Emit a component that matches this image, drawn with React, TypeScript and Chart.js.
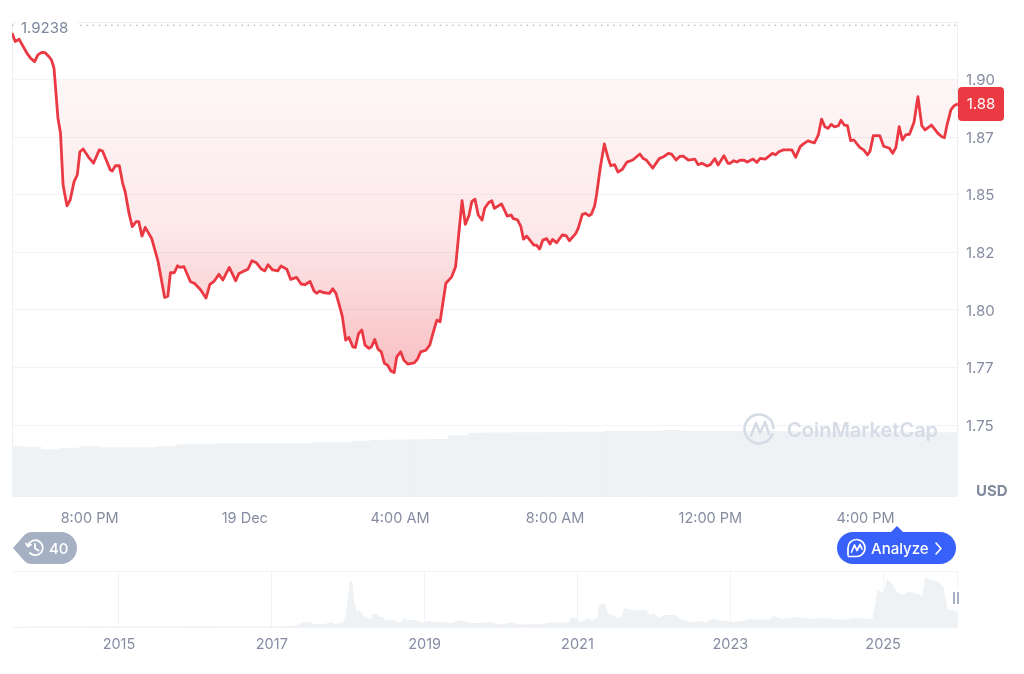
import React, { useEffect, useRef } from "react";
import { Chart, registerables } from "chart.js";

Chart.register(...registerables);

// Minutes since 18 Dec 6:00 PM
const priceMinutes = [0,5,11,15,23,29,35,40,46,51,58,61,65,68,71,75,79,85,90,96,101,105,110,118,126,135,140,152,155,160,166,171,175,181,186,192,196,201,206,216,226,236,241,245,251,256,260,266,276,282,291,300,306,312,320,326,336,346,351,359,365,371,378,386,391,396,403,411,416,425,431,440,447,453,461,467,471,476,481,491,496,501,507,511,516,521,527,531,536,541,546,552,556,561,566,571,576,581,586,591,595,601,606,612,622,627,632,640,646,651,657,662,671,680,686,696,701,707,711,716,721,727,731,737,742,746,757,766,772,775,782,787,791,796,807,811,816,821,827,832,836,842,851,857,862,872,876,882,887,892,896,901,904,910,916,922,926,932,937,944,951,960,971,976,981,991,1001,1007,1015,1020,1027,1033,1038,1046,1056,1061,1067,1075,1080,1087,1092,1101,1107,1111,1116,1121,1126,1132,1137,1146,1152,1157,1165,1176,1181,1186,1193,1206,1212,1219,1224,1231,1241,1247,1252,1257,1262,1267,1272,1278,1282,1287,1292,1297,1302,1311,1317,1323,1327,1332,1342,1348,1357,1362,1367,1372,1377,1382,1388,1395,1401,1407,1412,1422,1432,1438,1442,1446,1452,1457,1463];
const priceValues = [1.9204,1.9167,1.9177,1.9157,1.9117,1.9094,1.908,1.9109,1.912,1.9119,1.9099,1.9087,1.9051,1.8943,1.8835,1.8769,1.8543,1.8453,1.8478,1.8558,1.8587,1.8688,1.87,1.8666,1.8638,1.8696,1.8691,1.8609,1.8604,1.8627,1.8627,1.8553,1.8514,1.842,1.8362,1.8384,1.8384,1.8321,1.8359,1.8311,1.821,1.8055,1.806,1.8162,1.8162,1.8192,1.8185,1.8188,1.8123,1.8116,1.809,1.8052,1.8111,1.8123,1.8155,1.813,1.8185,1.8127,1.8159,1.817,1.8177,1.8214,1.8205,1.8177,1.817,1.8197,1.8174,1.817,1.8191,1.8177,1.8133,1.8142,1.8113,1.811,1.8124,1.8083,1.8073,1.8082,1.8076,1.8072,1.8092,1.8072,1.8013,1.797,1.7869,1.7881,1.784,1.7837,1.7898,1.7913,1.7847,1.7833,1.784,1.7872,1.783,1.7818,1.7768,1.776,1.7735,1.7728,1.7796,1.7818,1.7782,1.7765,1.777,1.7786,1.7818,1.7825,1.7847,1.7898,1.7956,1.7949,1.8116,1.8144,1.8188,1.8475,1.8372,1.8413,1.8471,1.8482,1.8413,1.8391,1.8442,1.8466,1.8475,1.8442,1.8461,1.8408,1.8413,1.8398,1.8391,1.8362,1.8308,1.8321,1.8282,1.8282,1.8265,1.8304,1.831,1.8287,1.8307,1.8292,1.8326,1.8323,1.8301,1.8333,1.8358,1.8416,1.842,1.841,1.8416,1.8452,1.85,1.8623,1.8722,1.8659,1.8627,1.8632,1.86,1.8612,1.8643,1.8652,1.8678,1.8659,1.8652,1.8617,1.8658,1.8665,1.8681,1.8678,1.8652,1.8668,1.8669,1.8652,1.8656,1.8632,1.8638,1.8626,1.8632,1.8658,1.863,1.8671,1.8638,1.8638,1.8649,1.8643,1.8651,1.8651,1.8643,1.8656,1.8642,1.8659,1.8656,1.8681,1.8675,1.8688,1.8696,1.8696,1.8664,1.871,1.8722,1.8735,1.8726,1.8761,1.883,1.8797,1.879,1.8807,1.8796,1.8801,1.8825,1.8804,1.8801,1.8736,1.8739,1.8707,1.8696,1.8674,1.8691,1.8758,1.8758,1.8712,1.8703,1.8681,1.8707,1.8797,1.8739,1.8761,1.8764,1.8816,1.8927,1.8801,1.8783,1.8804,1.8768,1.8753,1.8749,1.8804,1.887,1.8888,1.8896];

const volumeMinutes = [0,30,60,90,120,150,180,210,240,270,300,330,360,390,420,450,480,510,540,570,600,630,660,690,720,750,780,810,840,870,900,930,960,990,1020,1050,1080,1110,1140,1170,1200,1230,1260,1290,1320,1350,1380,1410,1440,1470];
const volumeValues = [50.7,50,47.5,49,50.5,49.5,49.5,49.3,50.5,52.3,52.3,53.3,53.3,53.3,53.3,53.3,54.5,54.5,56,57,57.2,57.3,57.7,61.5,64,64.2,64.3,64.5,64.6,64.8,65,65.7,65.7,66,66.7,66,65.8,65.8,65.7,65.7,65.5,65.5,65.5,65.5,65.3,65,65,64.7,64.5,64.5];

const xTickMinutes = [120,360,600,840,1080,1320];
const xTickLabels = ["8:00 PM","19 Dec","4:00 AM","8:00 AM","12:00 PM","4:00 PM"];
const yTickValues = [1.75,1.775,1.8,1.825,1.85,1.875,1.9];
const yTickLabels = ["1.75","1.77","1.80","1.82","1.85","1.87","1.90"];
const highPrice = 1.9238;
const highLabel = "1.9238";
const currentPrice = 1.8896;
const currentLabel = "1.88";

const overviewYears = [2013.6,2014.1,2014.75,2015,2016.06,2017,2017.28,2017.36,2017.4,2017.5,2017.57,2017.66,2017.79,2017.83,2017.93,2017.97,2018,2018.02,2018.05,2018.08,2018.12,2018.14,2018.19,2018.29,2018.32,2018.38,2018.4,2018.46,2018.49,2018.61,2018.68,2018.73,2018.78,2018.89,2018.97,2019.01,2019.2,2019.36,2019.46,2019.59,2019.73,2019.86,2019.99,2020.14,2020.22,2020.55,2020.62,2020.88,2020.92,2021,2021.03,2021.13,2021.19,2021.26,2021.28,2021.36,2021.4,2021.47,2021.52,2021.57,2021.62,2021.72,2021.9,2021.95,2022,2022.07,2022.12,2022.28,2022.38,2022.51,2022.61,2022.67,2022.76,2022.84,2022.96,2023.04,2023.13,2023.26,2023.39,2023.52,2023.56,2023.68,2023.87,2024.07,2024.22,2024.48,2024.61,2024.86,2024.9,2024.93,2025,2025.05,2025.13,2025.18,2025.26,2025.35,2025.51,2025.55,2025.64,2025.72,2025.79,2025.84,2025.97];
const overviewValues = [0.3,0.4,0.8,0.6,0.8,0.5,1,2.5,5,4.5,3,3,4.5,3,4.5,12,32,46,46,25,15,18,12,8,13,13,10,10,7,7,4,9,7,7,4,6,5,4,7,4,4,5,2.5,4.5,2.5,3,4.5,4.5,10,8,4.5,9,7,9,22,24,13,12,9,10,19,17,17,12,13,9,12,12,7,5,6,4.5,8,7,6,5,6,8,7,8,11,8,10,8,9,7,9,8,25,38,33,48,42,35,32,36,31,50,47,45,40,20,15];
const overviewTickYears = [2015,2017,2019,2021,2023,2025];

const FONT = "Inter";
const GRID = "#f1f3f6";
const AXIS_TEXT = "#858ca2";
const RED = "#ea3943";
const BAR = "#eff2f5";

const mainPlugin = {
  id: "mainOverlay",
  beforeDatasetsDraw(chart: any) {
    const { ctx, chartArea: a } = chart;
    ctx.save();
    ctx.strokeStyle = "#eceff3";
    ctx.lineWidth = 1;
    ctx.beginPath();
    ctx.moveTo(a.left + 0.5, a.bottom);
    ctx.lineTo(a.left + 0.5, a.top + 0.5);
    ctx.lineTo(a.right - 0.5, a.top + 0.5);
    ctx.lineTo(a.right - 0.5, a.bottom);
    ctx.stroke();
    ctx.restore();
  },
  afterDatasetsDraw(chart: any) {
    const { ctx, chartArea: a, scales } = chart;
    const yHigh = scales.y.getPixelForValue(highPrice);
    ctx.save();
    ctx.fillStyle = "#ffffff";
    ctx.fillRect(a.left + 4, a.top - 2, 61, 16);
    ctx.fillStyle = "#7b879c";
    ctx.font = `15px ${FONT}`;
    ctx.textBaseline = "middle";
    ctx.textAlign = "left";
    ctx.fillText(highLabel, a.left + 9, yHigh + 3);

    // watermark
    const wmColor = "#d6dce6";
    ctx.strokeStyle = wmColor;
    ctx.lineWidth = 2.6;
    ctx.lineCap = "round";
    ctx.lineJoin = "round";
    ctx.beginPath();
    ctx.arc(759, 429, 14.5, Math.PI * 0.12, Math.PI * 1.98);
    ctx.stroke();
    ctx.beginPath();
    ctx.moveTo(751, 436);
    ctx.lineTo(756, 423);
    ctx.lineTo(760, 433);
    ctx.lineTo(765, 422);
    ctx.lineTo(769, 434);
    ctx.stroke();
    ctx.fillStyle = wmColor;
    ctx.font = `600 20px ${FONT}`;
    ctx.fillText("CoinMarketCap", 787, 431);

    // USD and current price
    ctx.fillStyle = "#808a9d";
    ctx.font = `700 15px ${FONT}`;
    ctx.fillText("USD", 976, 491);

    const yNow = scales.y.getPixelForValue(currentPrice);
    ctx.fillStyle = "#ec3a44";
    ctx.beginPath();
    ctx.roundRect(a.right, yNow - 17, 46, 34, 4);
    ctx.fill();
    ctx.fillStyle = "#ffffff";
    ctx.font = `15px ${FONT}`;
    ctx.textAlign = "center";
    ctx.fillText(currentLabel, a.right + 23, yNow + 1);
    ctx.restore();
  },
};

const overviewPlugin = {
  id: "overviewFrame",
  beforeDatasetsDraw(chart: any) {
    const { ctx, chartArea: a } = chart;
    ctx.save();
    ctx.strokeStyle = GRID;
    ctx.lineWidth = 1;
    ctx.beginPath();
    ctx.moveTo(a.left, a.top + 0.5);
    ctx.lineTo(a.right, a.top + 0.5);
    ctx.moveTo(a.left, a.bottom + 0.5);
    ctx.lineTo(a.right, a.bottom + 0.5);
    ctx.moveTo(a.right - 0.5, a.top);
    ctx.lineTo(a.right - 0.5, a.bottom);
    ctx.stroke();
    ctx.restore();
  },
};

export default function App() {
  const mainRef = useRef<HTMLCanvasElement>(null);
  const overviewRef = useRef<HTMLCanvasElement>(null);

  useEffect(() => {
    const mainCtx = mainRef.current!.getContext("2d")!;
    const gradient = mainCtx.createLinearGradient(0, 80, 0, 372);
    gradient.addColorStop(0, "rgba(234,57,67,0.045)");
    gradient.addColorStop(0.5, "rgba(234,57,67,0.11)");
    gradient.addColorStop(1, "rgba(234,57,67,0.32)");

    const main = new Chart(mainCtx, {
      data: {
        datasets: [
          {
            type: "line",
            data: priceMinutes.map((m, i) => ({ x: m, y: priceValues[i] })),
            borderColor: RED,
            borderWidth: 2.8,
            borderJoinStyle: "round",
            pointRadius: 0,
            tension: 0,
            order: 1,
            fill: { target: { value: 1.9 }, above: "rgba(0,0,0,0)", below: gradient },
          },
          {
            type: "line",
            data: [
              { x: 0, y: highPrice },
              { x: 1463, y: highPrice },
            ],
            borderColor: "#9aa5b8",
            borderWidth: 1,
            borderDash: [1.5, 4.7],
            pointRadius: 0,
            order: 2,
          },
          {
            type: "bar",
            data: volumeMinutes.map((m, i) => ({ x: m, y: volumeValues[i] })),
            yAxisID: "yVol",
            backgroundColor: BAR,
            barPercentage: 1,
            categoryPercentage: 1,
            order: 3,
          },
        ],
      } as any,
      options: {
        responsive: false,
        animation: false,
        layout: { padding: { left: 12, top: 22, right: 0, bottom: 0 } },
        plugins: { legend: { display: false }, tooltip: { enabled: false } },
        scales: {
          x: {
            type: "linear",
            offset: false,
            min: 0,
            max: 1463,
            afterBuildTicks: (s: any) => {
              s.ticks = xTickMinutes.map((value) => ({ value }));
            },
            afterFit: (s: any) => {
              s.height = 43;
            },
            grid: { display: false, drawTicks: false, offset: false },
            border: { display: false },
            ticks: {
              autoSkip: false,
              maxRotation: 0,
              padding: 13,
              color: AXIS_TEXT,
              font: { family: FONT, size: 14.5 },
              callback: (v: any) => xTickLabels[xTickMinutes.indexOf(v)],
            },
          },
          y: {
            position: "right",
            min: 1.7187,
            max: 1.9252,
            afterBuildTicks: (s: any) => {
              s.ticks = yTickValues.map((value) => ({ value }));
            },
            afterFit: (s: any) => {
              s.width = 66;
            },
            grid: { color: GRID, drawTicks: false },
            border: { display: false },
            ticks: {
              padding: 8,
              labelOffset: 1,
              color: AXIS_TEXT,
              font: { family: FONT, size: 15 },
              callback: (v: any) => yTickLabels[yTickValues.indexOf(v)],
            },
          },
          yVol: { display: false, min: 0, max: 475 },
        },
      } as any,
      plugins: [mainPlugin],
    });

    const overview = new Chart(overviewRef.current!, {
      type: "line",
      data: {
        datasets: [
          {
            data: overviewYears.map((t, i) => ({ x: t, y: overviewValues[i] })),
            borderWidth: 0,
            pointRadius: 0,
            backgroundColor: BAR,
            fill: "origin",
          },
        ],
      },
      options: {
        responsive: false,
        animation: false,
        layout: { padding: { left: 12, top: 11, right: 66, bottom: 0 } },
        plugins: { legend: { display: false }, tooltip: { enabled: false } },
        scales: {
          x: {
            type: "linear",
            min: 2013.6,
            max: 2025.98,
            afterBuildTicks: (s: any) => {
              s.ticks = overviewTickYears.map((value) => ({ value }));
            },
            afterFit: (s: any) => {
              s.height = 47;
            },
            grid: { color: GRID, drawTicks: false },
            border: { display: false },
            ticks: {
              autoSkip: false,
              maxRotation: 0,
              padding: 9,
              color: AXIS_TEXT,
              font: { family: FONT, size: 14.5 },
              callback: (v: any) => String(v),
            },
          },
          y: { display: false, min: 0, max: 56 },
        },
      } as any,
      plugins: [overviewPlugin],
    });

    return () => {
      main.destroy();
      overview.destroy();
    };
  }, []);

  return (
    <div style={{ position: "absolute", left: 0, top: 0, width: 1024, height: 674, background: "#fff", overflow: "hidden" }}>
      <canvas ref={mainRef} width={1024} height={540} style={{ position: "absolute", left: 0, top: 0 }} />
      <canvas ref={overviewRef} width={1024} height={114} style={{ position: "absolute", left: 0, top: 560 }} />
      <svg width={1024} height={674} style={{ position: "absolute", left: 0, top: 0, fontFamily: FONT }}>
        {/* history pill */}
        <path d="M13 548 L24 535.5 Q27 532 32 532 L61 532 A16 16 0 0 1 61 564 L32 564 Q27 564 24 560.5 Z" fill="#a6b0c3" />
        <g fill="none" stroke="#fff" strokeWidth={1.8} strokeLinecap="round" strokeLinejoin="round">
          <path d="M28 546 A7.5 7.5 0 1 1 30 553" />
          <path d="M26 543.5 L28 546.5 L31 544.5" />
          <path d="M35 544 L35 548.5 L38.5 550.5" />
        </g>
        <text x={49} y={553.5} fill="#fff" fontSize={15} fontWeight={500}>40</text>

        {/* analyze button */}
        <path d="M891 532 L897 526 L903 532 Z" fill="#3861fb" />
        <rect x={837} y={532} width={119} height={32} rx={16} fill="#3861fb" />
        <g fill="none" stroke="#fff" strokeWidth={1.7} strokeLinecap="round" strokeLinejoin="round">
          <path d="M848 555 L848 548 A8.5 8.5 0 1 1 856 556.5 L848.5 556.5" />
          <path d="M851.5 552 L854.5 545 L857 550.5 L860 544.5 L862 549" />
        </g>
        <text x={871} y={553.5} fill="#fff" fontSize={15} fontWeight={500}>Analyze</text>
        <path d="M936 543 L941 548.5 L936 554" fill="none" stroke="#fff" strokeWidth={1.6} strokeLinecap="round" strokeLinejoin="round" />

        {/* pause handle */}
        <path d="M958 588 L951 588 Q947 588 947 592 L947 606 Q947 610 951 610 L958 610 Z" fill="#fff" />
        <rect x={953} y={592} width={2} height={12} fill="#a6b0c3" />
        <rect x={957} y={592} width={2} height={12} fill="#a6b0c3" />
      </svg>
    </div>
  );
}
